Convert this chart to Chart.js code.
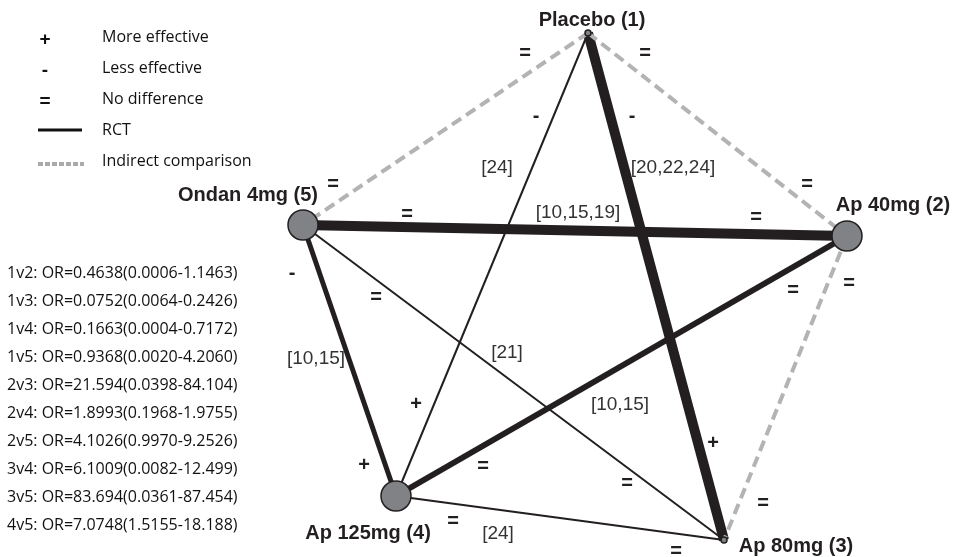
<!DOCTYPE html>
<html>
<head>
<meta charset="utf-8">
<script src="https://cdn.jsdelivr.net/npm/chart.js@4"></script>
<style>
  html, body { margin: 0; padding: 0; background: #fff; }
  #wrap { width: 953px; height: 557px; position: relative; }
</style>
</head>
<body>
<div id="wrap"><canvas id="net"></canvas></div>
<script>
// treatments (nodes) and where they sit in the diagram
const nodeNames = ['Placebo (1)', 'Ap 40mg (2)', 'Ap 80mg (3)', 'Ap 125mg (4)', 'Ondan 4mg (5)'];
const nodeX = [588, 847, 724, 396, 303];
const nodeY = [33, 236, 540, 496, 225];
const nodeRadius = [3, 15, 3, 15, 15];

// comparisons: from, to, line weight, kind
const edgeFrom = [1, 1, 2, 1, 1, 5, 5, 5, 4, 4];
const edgeTo   = [2, 5, 3, 3, 4, 2, 4, 3, 2, 3];
const edgeWeight = [4, 4, 4, 10, 2, 10, 5, 2, 6, 2];
const edgeKind = ['ind', 'ind', 'ind', 'rct', 'rct', 'rct', 'rct', 'rct', 'rct', 'rct'];

// effect signs and references on the edges
const signText = ['=', '=', '-', '-', '=', '=', '=', '=', '-', '=', '=', '=', '+', '+', '+', '=', '=', '=', '=', '='];
const signX = [525, 645, 536, 632, 333, 807, 407, 756, 292, 376, 793, 849, 416, 713, 364, 483, 627, 763, 453, 676];
const signY = [53, 53, 116, 116, 184, 184, 214, 217, 273, 297, 290, 283, 404, 443, 465, 466, 483, 503, 521, 551];

const refText = ['[24]', '[20,22,24]', '[10,15,19]', '[21]', '[10,15]', '[10,15]', '[24]'];
const refX = [497, 673, 578, 507, 316, 620, 498];
const refY = [168, 168, 213, 353, 359, 405, 534];

const labelX = [592, 893, 796, 368, 248];
const labelY = [20, 205, 546, 533, 195];

// odds ratios
const orLines = [
  '1v2: OR=0.4638(0.0006-1.1463)',
  '1v3: OR=0.0752(0.0064-0.2426)',
  '1v4: OR=0.1663(0.0004-0.7172)',
  '1v5: OR=0.9368(0.0020-4.2060)',
  '2v3: OR=21.594(0.0398-84.104)',
  '2v4: OR=1.8993(0.1968-1.9755)',
  '2v5: OR=4.1026(0.9970-9.2526)',
  '3v4: OR=6.1009(0.0082-12.499)',
  '3v5: OR=83.694(0.0361-87.454)',
  '4v5: OR=7.0748(1.5155-18.188)'
];
const legendSigns = ['+', '-', '='];
const legendTexts = ['More effective', 'Less effective', 'No difference', 'RCT', 'Indirect comparison'];

const datasets = [];
edgeFrom.forEach((f, i) => {
  const a = f - 1, b = edgeTo[i] - 1;
  const ind = edgeKind[i] === 'ind';
  datasets.push({
    type: 'line',
    order: 1,
    data: [{x: nodeX[a], y: nodeY[a]}, {x: nodeX[b], y: nodeY[b]}],
    borderColor: ind ? '#b3b3b3' : '#231f20',
    borderWidth: edgeWeight[i],
    borderDash: ind ? [11, 6] : [],
    borderCapStyle: 'butt',
    pointRadius: 0,
    fill: false,
    tension: 0
  });
});
datasets.push({
  type: 'scatter',
  order: 0,
  data: nodeX.map((x, i) => ({x: x, y: nodeY[i]})),
  pointRadius: nodeRadius,
  pointBackgroundColor: '#808285',
  pointBorderColor: '#231f20',
  pointBorderWidth: 1.5
});

const textPlugin = {
  id: 'netText',
  afterDatasetsDraw(chart) {
    const c = chart.ctx;
    const xs = chart.scales.x, ys = chart.scales.y;
    c.save();
    c.textAlign = 'center';
    c.textBaseline = 'middle';
    c.fillStyle = '#231f20';

    c.font = 'bold 20px "Liberation Sans", Arial, sans-serif';
    signText.forEach((t, i) => c.fillText(t, xs.getPixelForValue(signX[i]), ys.getPixelForValue(signY[i])));

    c.font = 'bold 20px "Liberation Sans", Arial, sans-serif';
    nodeNames.forEach((t, i) => c.fillText(t, xs.getPixelForValue(labelX[i]), ys.getPixelForValue(labelY[i])));

    c.fillStyle = '#333';
    c.font = '19px "Liberation Sans", Arial, sans-serif';
    refText.forEach((t, i) => c.fillText(t, xs.getPixelForValue(refX[i]), ys.getPixelForValue(refY[i])));

    // odds ratio table
    c.fillStyle = '#111';
    c.textAlign = 'left';
    c.font = '16px "Open Sans", "Noto Sans", sans-serif';
    orLines.forEach((t, i) => c.fillText(t, 7, 273 + i * 28));

    // legend
    c.font = 'bold 19px "Liberation Sans", Arial, sans-serif';
    c.textAlign = 'center';
    legendSigns.forEach((t, i) => c.fillText(t, 45, 40 + i * 31));
    c.textAlign = 'left';
    c.font = '16px "Open Sans", "Noto Sans", sans-serif';
    legendTexts.forEach((t, i) => c.fillText(t, 102, 37 + i * 31));
    c.strokeStyle = '#111';
    c.lineWidth = 3;
    c.beginPath(); c.moveTo(38, 130); c.lineTo(82, 130); c.stroke();
    c.strokeStyle = '#aaa';
    c.lineWidth = 4;
    c.setLineDash([5, 2]);
    c.beginPath(); c.moveTo(38, 164); c.lineTo(84, 164); c.stroke();
    c.restore();
  }
};

new Chart(document.getElementById('net'), {
  type: 'scatter',
  data: { datasets: datasets },
  options: {
    responsive: true,
    maintainAspectRatio: false,
    animation: false,
    layout: { padding: 0, autoPadding: false },
    scales: {
      x: { type: 'linear', min: 0, max: 953, display: false },
      y: { type: 'linear', min: 0, max: 557, reverse: true, display: false }
    },
    plugins: {
      legend: { display: false },
      tooltip: { enabled: false }
    }
  },
  plugins: [textPlugin]
});
</script>
</body>
</html>
